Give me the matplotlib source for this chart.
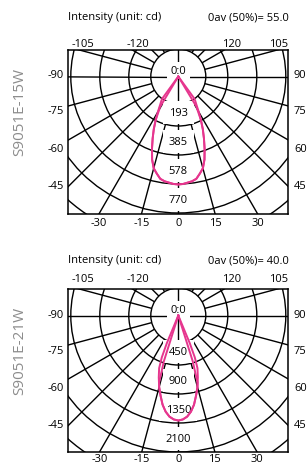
import numpy as np
import matplotlib
matplotlib.use("Agg")
import matplotlib.pyplot as plt
from matplotlib.patches import Circle

plt.rcParams['font.family'] = ['Open Sans', 'DejaVu Sans']

# ---------------- data ----------------
models = ["S9051E-15W", "S9051E-21W"]
beam_titles = ["0av (50%)= 55.0", "0av (50%)= 40.0"]
ring_labels_15w = ["193", "385", "578", "770"]
ring_labels_21w = ["450", "900", "1350", "2100"]
ring_step_cd = [192.5, 450.0]

# intensity (cd) vs angle from nadir (deg), two C-planes per lamp
angles_15w_c0 = [0, 2.5, 5, 7.5, 10, 12.5, 15, 17.5, 20, 22.5, 25, 27.5, 30, 32.5, 35, 36, 37.5, 45, 60, 75, 90]
cd_15w_c0 = [609, 607, 601, 596, 586, 561, 536, 491, 434, 378, 327, 276, 231, 192, 166, 152, 0, 0, 0, 0, 0]
angles_15w_c90 = [0, 2.5, 5, 7.5, 10, 12.5, 15, 17.5, 20, 22.5, 25, 27.5, 30, 31, 32.5, 45, 60, 75, 90]
cd_15w_c90 = [609, 607, 601, 596, 586, 561, 536, 491, 434, 378, 327, 276, 214, 203, 0, 0, 0, 0, 0]

angles_21w_c0 = [0, 2.5, 5, 7.5, 10, 12.5, 15, 17.5, 20, 21.5, 22.5, 23, 30, 45, 60, 75, 90]
cd_21w_c0 = [1385, 1372, 1339, 1279, 1194, 1082, 976, 857, 739, 594, 396, 0, 0, 0, 0, 0, 0]
angles_21w_c90 = [0, 2.5, 5, 7.5, 10, 12.5, 15, 16, 17.5, 18, 30, 45, 60, 75, 90]
cd_21w_c90 = [1385, 1372, 1339, 1279, 1194, 1082, 976, 920, 633, 0, 0, 0, 0, 0, 0]

left_ticks = ["-90", "-75", "-60", "-45"]
right_ticks = ["90", "75", "60", "45"]
bottom_ticks = [-30, -15, 0, 15, 30]
top_ticks = ["-105", "-120", "120", "105"]

series = [
    [(angles_15w_c0, cd_15w_c0), (angles_15w_c90, cd_15w_c90)],
    [(angles_21w_c0, cd_21w_c0), (angles_21w_c90, cd_21w_c90)],
]
ring_labels = [ring_labels_15w, ring_labels_21w]

# ---------------- layout (pixels) ----------------
W, H = 308, 464
fig = plt.figure(figsize=(W / 100, H / 100), dpi=100)

CX = 178.3
BOX_L, BOX_R = 68, 288
tops = [51, 290]
bottoms = [215, 453]
centers_y = [77.5, 316.5]
title_y = [18, 261]
toplab_y = [44.3, 279.3]
bottomlab_off = [8.5, 6.0]

INNER_R = 27.5
RING_R0, RING_DR = 20.5, 29.0
ring_radii = [RING_R0 + RING_DR * k for k in range(1, 6)]
LINE_C = '#e6368e'
FS = 8

left_y = [1.5, -34.5, -72.0, -109.5]
top_x = [-95.6, -40.0, 53.4, 100.0]

for i in range(2):
    top, bot, cy = tops[i], bottoms[i], centers_y[i]
    ax = fig.add_axes([BOX_L / W, 1 - bot / H, (BOX_R - BOX_L) / W, (bot - top) / H])
    ax.set_xlim(BOX_L - CX, BOX_R - CX)
    ax.set_ylim(cy - bot, cy - top)
    ax.set_xticks([])
    ax.set_yticks([])
    for s in ax.spines.values():
        s.set_linewidth(1.1)
        s.set_color('black')

    # rings
    for r in ring_radii:
        ax.add_patch(Circle((0, 0), r, fill=False, ec='black', lw=1.0, zorder=1))
    # radial lines
    for a in range(0, 360, 15):
        t = np.deg2rad(a)
        z = 3 if a % 90 == 0 else 1
        ax.plot([0, 400 * np.sin(t)], [0, -400 * np.cos(t)], color='black', lw=1.0, zorder=z,
                solid_capstyle='butt')
    ax.add_patch(Circle((0, 0), INNER_R, fc='white', ec='black', lw=1.0, zorder=2))

    # labels inside
    ax.text(0, 6.0, "0:0", ha='center', va='center', fontsize=FS, zorder=4,
            bbox=dict(fc='white', ec='none', pad=2.5))
    for k, lab in enumerate(ring_labels[i]):
        ax.text(0, -(ring_radii[k] - 13.5), lab, ha='center', va='center', fontsize=FS, zorder=4,
                bbox=dict(fc='white', ec='none', pad=4.5))

    # photometric curves
    scale = ring_radii[3] / (4 * ring_step_cd[i])
    for ang, cd in series[i]:
        ang = np.asarray(ang, float)
        cd = np.asarray(cd, float)
        th = np.deg2rad(np.concatenate([-ang[::-1], ang[1:]]))
        rr = np.concatenate([cd[::-1], cd[1:]]) * scale
        ax.plot(rr * np.sin(th), -rr * np.cos(th), color=LINE_C, lw=1.4, zorder=5,
                solid_joinstyle='round')

    # outer tick labels
    for lab, y in zip(left_ticks, left_y):
        ax.text(BOX_L - 4 - CX, y, lab, ha='right', va='center', fontsize=FS, clip_on=False)
    for lab, y in zip(right_ticks, left_y):
        ax.text(BOX_R + 6 - CX, y, lab, ha='left', va='center', fontsize=FS, clip_on=False)
    depth = cy - bot
    for b in bottom_ticks:
        x = (bot - cy) * np.tan(np.deg2rad(b))
        ax.text(x, depth - bottomlab_off[i], str(b), ha='center', va='center', fontsize=FS,
                clip_on=False)
    for lab, x in zip(top_ticks, top_x):
        ax.text(x, cy - toplab_y[i], lab, ha='center', va='center', fontsize=FS, clip_on=False)

    # titles
    ax.text(BOX_L - CX, cy - title_y[i], "Intensity (unit: cd)", ha='left', va='center',
            fontsize=FS, clip_on=False)
    ax.text(BOX_R + 1 - CX, cy - title_y[i], beam_titles[i], ha='right', va='center',
            fontsize=FS, clip_on=False)
    ax.text(20 - CX, -34.5, models[i], rotation=90, ha='center', va='center', fontsize=11,
            color='#8c8c8c', clip_on=False)

fig.savefig("out.png", dpi=100)
